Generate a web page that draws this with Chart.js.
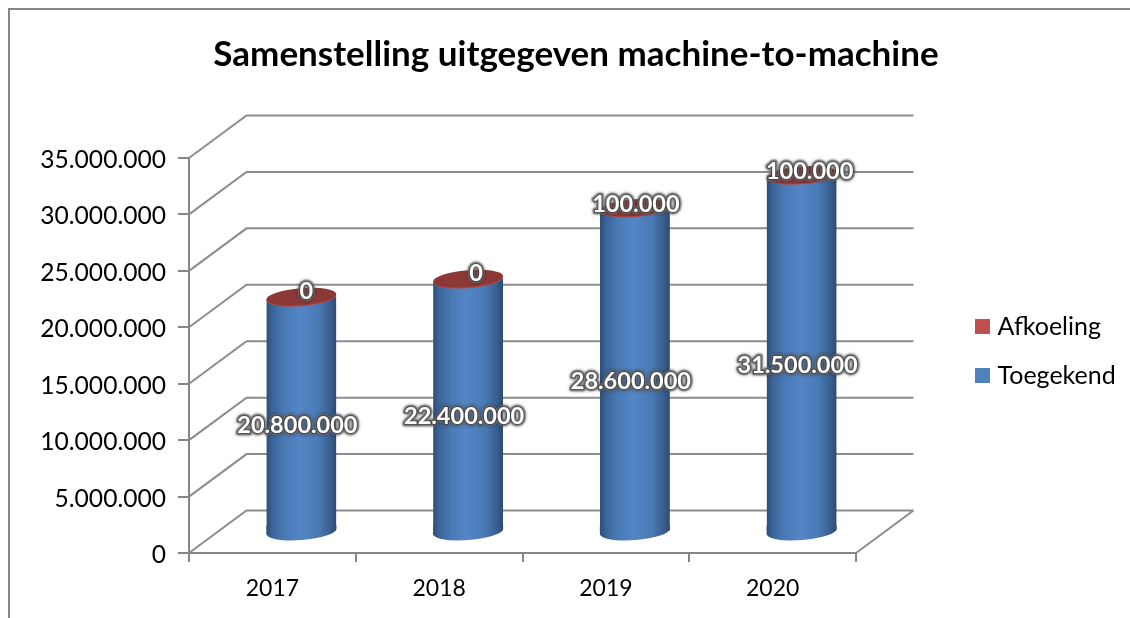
<!DOCTYPE html>
<html><head><meta charset="utf-8">
<style>html,body{margin:0;padding:0;background:#fff;overflow:hidden}#w{width:1130px;height:618px;position:relative}canvas{display:block}</style>
<script src="https://cdn.jsdelivr.net/npm/chart.js@4"></script>
</head><body><div id="w"><canvas id="c" width="1130" height="618" style="width:1130px;height:618px"></canvas></div>
<script>
const titleText = 'Samenstelling uitgegeven machine-to-machine';
const categories = ['2017','2018','2019','2020'];
const toegekend = [20800000,22400000,28600000,31500000];
const afkoeling = [0,0,100000,100000];
const yMax = 35000000, yStep = 5000000;

const FONT = 'Lato, Carlito, Calibri, sans-serif';
const AXIS = '#868686', GRID = '#8c8c8c';
const DEPTH = {x:57.5, y:-42.5};      // back wall offset from the front plane
const BARPLANE = {x:29, y:-21.5};     // cylinders stand midway in the depth
const ELL = {b:8.5, tilt:-0.08};
const fmt = v => String(v).replace(/\B(?=(\d{3})+$)/g,'.');
const swatch = col => { const c=document.createElement('canvas'); c.width=15;c.height=15; const g=c.getContext('2d'); g.fillStyle=col; g.fillRect(0,0,15,15); return c; };

const cylGradient = (ctx,x,w) => {
  const g = ctx.createLinearGradient(x-w/2,0,x+w/2,0);
  g.addColorStop(0,'#2d4e78'); g.addColorStop(.09,'#3b659a'); g.addColorStop(.26,'#4a7ab5');
  g.addColorStop(.48,'#5386c6'); g.addColorStop(.74,'#4a7ab5'); g.addColorStop(.91,'#395f8f'); g.addColorStop(1,'#2c4a6f');
  return g;
};
const ellipse = (ctx,x,y,a,col) => { ctx.beginPath(); ctx.ellipse(x,y,a,ELL.b,ELL.tilt,0,Math.PI*2); ctx.fillStyle=col; ctx.fill(); };

const scene = {
  id:'scene',
  beforeLayout(chart){
    const lg = chart.legend;
    if (lg && !lg._wrapped){ const f=lg.fit; lg.fit=function(){f.call(this); this.width=274;}; lg._wrapped=true; }
  },
  afterLayout(chart){
    const lg = chart.legend; lg.left=956; lg.right=1130; lg.top=290; lg.bottom=600; lg.adjustHitBoxes();
    const t = chart.titleBlock; t.left=22; t.right=1130;
  },
  beforeDraw(chart){
    const {ctx} = chart;
    ctx.save(); ctx.strokeStyle=AXIS; ctx.lineWidth=2; ctx.beginPath();
    ctx.moveTo(9,618); ctx.lineTo(9,9); ctx.lineTo(1130,9); ctx.stroke(); ctx.restore();
  },
  beforeDatasetsDraw(chart){
    const {ctx,scales:{x,y},chartArea:ca} = chart;
    ctx.save(); ctx.strokeStyle=GRID; ctx.lineWidth=2; ctx.beginPath();
    y.ticks.forEach(t=>{ const p=y.getPixelForValue(t.value);
      ctx.moveTo(ca.left,p); ctx.lineTo(ca.left+DEPTH.x,p+DEPTH.y); ctx.lineTo(ca.right+DEPTH.x,p+DEPTH.y); });
    const b=y.getPixelForValue(0); ctx.moveTo(ca.right,b); ctx.lineTo(ca.right+DEPTH.x,b+DEPTH.y);
    ctx.stroke(); ctx.restore();
    ctx.save(); ctx.translate(BARPLANE.x,BARPLANE.y);
    const bars = chart.getDatasetMeta(0).data;
    bars.forEach(el=>{
      const w=el.width/2, dy=Math.sin(ELL.tilt)*w, c=el.base+1, g=cylGradient(ctx,el.x,el.width);
      ellipse(ctx,el.x,c,w,g);
      // bridge between the straight body edge and the tilted bottom ellipse
      ctx.beginPath(); ctx.moveTo(el.x-w,c-dy); ctx.lineTo(el.x+w,c+dy); ctx.lineTo(el.x+w,c-6); ctx.lineTo(el.x-w,c-6); ctx.closePath(); ctx.fillStyle=g; ctx.fill();
    });
    // keep the body under the chord of the tilted top ellipse
    ctx.beginPath();
    chart.getDatasetMeta(1).data.forEach(el=>{
      const w=el.width/2, dy=Math.sin(ELL.tilt)*w, top=el.y;
      ctx.moveTo(el.x-w,top-dy); ctx.lineTo(el.x+w,top+dy); ctx.lineTo(el.x+w,y.bottom+1); ctx.lineTo(el.x-w,y.bottom+1); ctx.closePath();
    });
    ctx.clip();
    chart.getDatasetMeta(0).data.forEach(el=>{ el.options = Object.assign({},el.options,{backgroundColor:cylGradient(ctx,el.x,el.width)}); });
  },
  afterDatasetsDraw(chart){
    const {ctx} = chart;
    ctx.restore();
    ctx.save(); ctx.translate(BARPLANE.x,BARPLANE.y);
    chart.getDatasetMeta(1).data.forEach(el=>{
      ellipse(ctx,el.x,el.y+1,el.width/2,'#b04a48');
      ellipse(ctx,el.x,el.y,el.width/2,'#8c3836');
    });
    ctx.restore();
    const bodyNudge = {x:-4,y:12};
    const topNudge = [[5,-5],[8,-5],[1,-3],[8,-3]];
    const m0=chart.getDatasetMeta(0).data, m1=chart.getDatasetMeta(1).data;
    m0.forEach((el,i)=>{
      const cx=el.x+BARPLANE.x, midY=(el.y+el.base)/2+BARPLANE.y;
      label(ctx,fmt(toegekend[i]),cx+bodyNudge.x,midY+bodyNudge.y);
      label(ctx,fmt(afkoeling[i]),cx+topNudge[i][0],m1[i].y+BARPLANE.y+topNudge[i][1]);
    });
  }
};
function label(ctx,s,x,y){
  ctx.save(); ctx.font='700 23.5px '+FONT; ctx.textAlign='center'; ctx.textBaseline='middle'; ctx.lineJoin='round';
  ctx.shadowColor='rgba(0,0,0,.6)'; ctx.shadowBlur=3;
  ctx.strokeStyle='rgba(120,120,120,.65)'; ctx.lineWidth=5; ctx.strokeText(s,x,y);
  ctx.shadowBlur=0;
  ctx.strokeStyle='rgba(50,50,50,.6)'; ctx.lineWidth=2.5; ctx.strokeText(s,x,y);
  ctx.fillStyle='#fff'; ctx.fillText(s,x,y);
  ctx.restore();
}

new Chart(document.getElementById('c'),{
  type:'bar',
  data:{labels:categories,datasets:[
    {label:'Toegekend',data:toegekend,backgroundColor:'#4f81bd',stack:'s',clip:false,swatch:'#4f81bd'},
    {label:'Afkoeling',data:afkoeling,backgroundColor:'#c0504d',stack:'s',clip:false,swatch:'#c0504d'}
  ]},
  plugins:[scene],
  options:{
    responsive:false,animation:false,devicePixelRatio:1,
    layout:{padding:0},
    datasets:{bar:{barPercentage:.42,categoryPercentage:1}},
    scales:{
      x:{stacked:true,offset:true,
        afterFit(s){s.height=65;},
        border:{color:AXIS,width:2},
        grid:{offset:true,drawOnChartArea:false,drawTicks:true,tickLength:9,color:AXIS,lineWidth:2},
        ticks:{color:'#000',padding:13,maxRotation:0,font:{family:FONT,size:23}}},
      y:{stacked:true,min:0,max:yMax,
        afterFit(s){s.width=189;},
        border:{color:AXIS,width:2},
        grid:{drawOnChartArea:false,drawTicks:true,tickLength:11,color:AXIS,lineWidth:2},
        ticks:{stepSize:yStep,color:'#000',padding:12,labelOffset:2,callback:v=>fmt(v),font:{family:FONT,size:24.6}}}
    },
    plugins:{
      tooltip:{enabled:false},
      title:{display:true,text:titleText,color:'#000',padding:{top:34,bottom:82},font:{family:FONT,size:35,weight:'700',lineHeight:1.2}},
      legend:{display:true,position:'right',align:'start',reverse:true,
        labels:{usePointStyle:true,pointStyleWidth:5,boxHeight:15,padding:24,color:'#000',font:{family:FONT,size:25},
          generateLabels:c=>c.data.datasets.map((d,i)=>({text:d.label,datasetIndex:i,fontColor:'#000',pointStyle:swatch(d.swatch),hidden:false,lineWidth:0}))}}
    }
  }
});
</script></body></html>
